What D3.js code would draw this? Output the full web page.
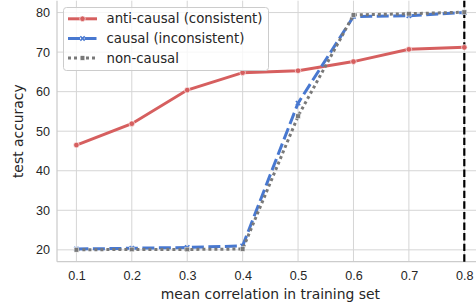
<!DOCTYPE html>
<html>
<head>
<meta charset="utf-8">
<script src="https://cdn.jsdelivr.net/npm/d3@7"></script>
<style>
  body { margin: 0; background: #fff; }
  svg { display: block; font-family: "DejaVu Sans", sans-serif; }
</style>
</head>
<body>
<svg id="canvas_svg" width="476" height="306"></svg>
<script>
var svg = d3.select("#canvas_svg"),
  w = 476, h = 306;

// data
var correlations = [0.1, 0.2, 0.3, 0.4, 0.5, 0.6, 0.7, 0.8];
var antiCausal = [46.5, 51.9, 60.4, 64.8, 65.3, 67.6, 70.7, 71.2];
var causal = [20.2, 20.4, 20.6, 21.0, 57.1, 79.0, 79.2, 80.0];
var nonCausal = [20.0, 20.1, 20.1, 20.2, 53.8, 79.4, 79.7, 80.1];
var seriesNames = ["anti-causal (consistent)", "causal (inconsistent)", "non-causal"];
var xTicks = [0.1, 0.2, 0.3, 0.4, 0.5, 0.6, 0.7, 0.8];
var yTicks = [20, 30, 40, 50, 60, 70, 80];
var markLine = 0.8;

var series = [
  { name: seriesNames[0], values: antiCausal, color: "#d65f5f", dash: null, marker: "circle" },
  { name: seriesNames[1], values: causal, color: "#4878d0", dash: "12,4.5", marker: "x" },
  { name: seriesNames[2], values: nonCausal, color: "#797979", dash: "3,3", marker: "square" }
];

var x = d3.scaleLinear().domain([0.065, 0.835]).range([57, 483.7]);
var y = d3.scaleLinear().domain([17, 83]).range([261.7, 0.7]);

var textColor = "#262626";
var gridColor = "#d5d5d5";

// grid
svg.append("g").selectAll("line").data(xTicks).enter().append("line")
  .attr("x1", d => x(d)).attr("x2", d => x(d))
  .attr("y1", y(17)).attr("y2", y(83))
  .attr("stroke", gridColor).attr("stroke-width", 1);
svg.append("g").selectAll("line").data(yTicks).enter().append("line")
  .attr("x1", x(0.065)).attr("x2", x(0.835))
  .attr("y1", d => y(d)).attr("y2", d => y(d))
  .attr("stroke", gridColor).attr("stroke-width", 1);

// spines
svg.append("line").attr("x1", x(0.065)).attr("x2", x(0.065)).attr("y1", y(17)).attr("y2", y(83))
  .attr("stroke", "#cccccc").attr("stroke-width", 1.25);
svg.append("line").attr("x1", x(0.065)).attr("x2", x(0.835)).attr("y1", y(17)).attr("y2", y(17))
  .attr("stroke", "#cccccc").attr("stroke-width", 1.25);

// axes
var xAxis = d3.axisBottom(x).tickValues(xTicks).tickSize(0).tickPadding(9).tickFormat(d3.format(".1f"));
var yAxis = d3.axisLeft(y).tickValues(yTicks).tickSize(0).tickPadding(7).tickFormat(d3.format("d"));
var gx = svg.append("g").attr("transform", "translate(0," + y(17) + ")").call(xAxis);
var gy = svg.append("g").attr("transform", "translate(" + x(0.065) + ",0)").call(yAxis);
[gx, gy].forEach(g => {
  g.select(".domain").remove();
  g.selectAll("text").attr("fill", textColor).style("font-size", "12.6px");
});

svg.append("text").attr("x", x(0.45)).attr("y", 299)
  .attr("text-anchor", "middle").attr("fill", textColor).style("font-size", "13.9px")
  .text("mean correlation in training set");
svg.append("text").attr("transform", "translate(23," + y(50) + ") rotate(-90)")
  .attr("text-anchor", "middle").attr("fill", textColor).style("font-size", "13.9px")
  .text("test accuracy");

// vertical marker
svg.append("line").attr("x1", x(markLine)).attr("x2", x(markLine))
  .attr("y1", y(17)).attr("y2", y(83))
  .attr("stroke", "#000").attr("stroke-width", 2.2).attr("stroke-dasharray", "7.4,3.2");

var line = d3.line().x((d, i) => x(correlations[i])).y(d => y(d));

function drawMarker(g, type, color, cx, cy) {
  if (type === "circle") {
    g.append("circle").attr("cx", cx).attr("cy", cy).attr("r", 2.8)
      .attr("fill", color).attr("stroke", "#fff").attr("stroke-width", 0.6);
  } else if (type === "x") {
    g.append("path").attr("d", d3.symbol(d3.symbolX, 14)())
      .attr("transform", "translate(" + cx + "," + cy + ")")
      .attr("stroke", color).attr("stroke-width", 1.6).attr("fill", "none");
  } else {
    g.append("rect").attr("x", cx - 2.3).attr("y", cy - 2.3).attr("width", 4.6).attr("height", 4.6)
      .attr("fill", color).attr("stroke", "#fff").attr("stroke-width", 0.5);
  }
}

series.forEach(s => {
  var g = svg.append("g");
  g.append("path").datum(s.values).attr("d", line)
    .attr("fill", "none").attr("stroke", s.color).attr("stroke-width", 3)
    .attr("stroke-dasharray", s.dash);
  s.values.forEach((v, i) => drawMarker(g, s.marker, s.color, x(correlations[i]), y(v)));
});

// legend
var legend = svg.append("g");
legend.append("rect").attr("x", 63.5).attr("y", 7.5).attr("width", 205).attr("height", 63)
  .attr("rx", 3).attr("fill", "#fff").attr("fill-opacity", 0.8)
  .attr("stroke", "#cccccc").attr("stroke-width", 1);
series.forEach((s, i) => {
  var ly = 18.8 + i * 19.6;
  legend.append("line").attr("x1", 68).attr("x2", 97).attr("y1", ly).attr("y2", ly)
    .attr("stroke", s.color).attr("stroke-width", 3).attr("stroke-dasharray", s.dash);
  drawMarker(legend, s.marker, s.color, 82.5, ly);
  legend.append("text").attr("x", 106.5).attr("y", ly).attr("dy", "0.35em")
    .attr("fill", textColor).style("font-size", "13.3px").text(s.name);
});
</script>
</body>
</html>
